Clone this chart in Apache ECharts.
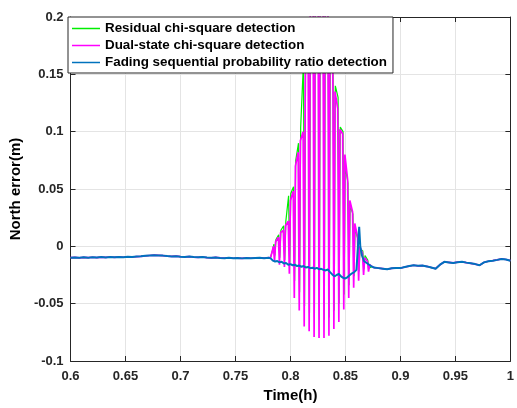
<!DOCTYPE html>
<html>
<head>
<meta charset="utf-8">
<script src="https://cdn.jsdelivr.net/npm/echarts@6/dist/echarts.min.js"></script>
<style>
  html, body { margin: 0; padding: 0; background: #fff; }
  #chart { width: 517px; height: 408px; }
</style>
</head>
<body>
<div id="chart"></div>
<script>
// tick labels
const timeTicks = [0.6, 0.65, 0.7, 0.75, 0.8, 0.85, 0.9, 0.95, 1];
const errorTicks = [-0.1, -0.05, 0, 0.05, 0.1, 0.15, 0.2];

const seriesNames = [
  'Residual chi-square detection',
  'Dual-state chi-square detection',
  'Fading sequential probability ratio detection'
];

// common part before the fault (all three methods overlap)
const preSegment = [
  [0.600, -0.0099], [0.604, -0.0097], [0.608, -0.0100], [0.612, -0.0096], [0.616, -0.0099],
  [0.620, -0.0095], [0.624, -0.0098], [0.628, -0.0094], [0.632, -0.0097], [0.636, -0.0093],
  [0.640, -0.0096], [0.644, -0.0092], [0.648, -0.0095], [0.652, -0.0091], [0.656, -0.0093],
  [0.660, -0.0089], [0.664, -0.0087], [0.668, -0.0083], [0.672, -0.0080], [0.676, -0.0077],
  [0.680, -0.0079], [0.684, -0.0081], [0.688, -0.0085], [0.692, -0.0088], [0.696, -0.0086],
  [0.700, -0.0090], [0.704, -0.0092], [0.708, -0.0089], [0.712, -0.0094], [0.716, -0.0096],
  [0.720, -0.0093], [0.724, -0.0098], [0.728, -0.0100], [0.732, -0.0097], [0.736, -0.0101],
  [0.740, -0.0103], [0.744, -0.0100], [0.748, -0.0104], [0.752, -0.0102], [0.756, -0.0105],
  [0.760, -0.0101], [0.764, -0.0104], [0.768, -0.0102], [0.772, -0.0100], [0.776, -0.0103],
  [0.780, -0.0099]
];

// fading SPRT during the fault
const fsprtBurst = [
  [0.782, -0.0105], [0.784, -0.0125], [0.786, -0.0132], [0.788, -0.0128], [0.790, -0.0140],
  [0.792, -0.0135], [0.794, -0.0150], [0.796, -0.0145], [0.798, -0.0160], [0.800, -0.0155],
  [0.802, -0.0165], [0.804, -0.0160], [0.806, -0.0172], [0.808, -0.0168], [0.810, -0.0178],
  [0.812, -0.0172], [0.814, -0.0185], [0.816, -0.0180], [0.818, -0.0190], [0.820, -0.0186],
  [0.822, -0.0195], [0.824, -0.0188], [0.826, -0.0200], [0.828, -0.0196], [0.830, -0.0205],
  [0.832, -0.0210], [0.834, -0.0202], [0.836, -0.0225], [0.838, -0.0245], [0.840, -0.0262],
  [0.842, -0.0250], [0.844, -0.0240], [0.846, -0.0262], [0.848, -0.0275], [0.850, -0.0280],
  [0.852, -0.0268], [0.854, -0.0250], [0.856, -0.0235], [0.858, -0.0225], [0.860, -0.0205],
  [0.8615, -0.0190], [0.8625, 0.0170], [0.8635, 0.0000], [0.865, -0.0080], [0.867, -0.0130],
  [0.870, -0.0150], [0.873, -0.0170], [0.876, -0.0185]
];

// dual-state chi-square during the fault
const dualBurst = [
  [0.782, -0.0095], [0.7835, -0.0040],
  [0.7845, 0.000], [0.7855, -0.013], [0.7865, 0.004],
  [0.789, 0.008], [0.790, -0.016], [0.791, 0.012],
  [0.7935, 0.014], [0.7945, -0.018], [0.7955, 0.018],
  [0.798, 0.022], [0.799, -0.024], [0.800, 0.040],
  [0.8025, 0.048], [0.8035, -0.045], [0.8045, 0.070],
  [0.807, 0.082], [0.808, -0.056], [0.809, 0.092],
  [0.8115, 0.100], [0.8125, -0.070], [0.8135, 0.150],
  [0.816, 0.190], [0.817, -0.074], [0.818, 0.210],
  [0.8205, 0.230], [0.8215, -0.079], [0.8225, 0.240],
  [0.825, 0.250], [0.826, -0.080], [0.827, 0.250],
  [0.8295, 0.240], [0.8305, -0.080], [0.8315, 0.230],
  [0.834, 0.210], [0.835, -0.078], [0.836, 0.190],
  [0.8385, 0.160], [0.8395, -0.072], [0.8405, 0.135],
  [0.843, 0.120], [0.844, -0.066], [0.845, 0.102],
  [0.8475, 0.098], [0.8485, -0.055], [0.8495, 0.080],
  [0.852, 0.058], [0.853, -0.045], [0.854, 0.040],
  [0.8565, 0.030], [0.8575, -0.036], [0.8585, 0.020],
  [0.861, 0.008], [0.862, -0.030], [0.863, 0.000],
  [0.8655, -0.006], [0.8665, -0.025], [0.8675, -0.010],
  [0.870, -0.013], [0.871, -0.022], [0.872, -0.016],
  [0.874, -0.0175], [0.876, -0.0185]
];

// residual chi-square during the fault
const residualBurst = [
  [0.782, -0.0095], [0.784, -0.0020],
  [0.7850, 0.002], [0.7858, -0.008], [0.7868, 0.006],
  [0.7893, 0.010], [0.7903, -0.010], [0.7913, 0.014],
  [0.7938, 0.018], [0.7948, -0.012], [0.7958, 0.022],
  [0.7983, 0.044], [0.7993, -0.016], [0.8003, 0.046],
  [0.8028, 0.052], [0.8038, -0.030], [0.8048, 0.075],
  [0.8073, 0.090], [0.8083, -0.040], [0.8093, 0.104],
  [0.8118, 0.160], [0.8128, -0.052], [0.8138, 0.170],
  [0.8163, 0.200], [0.8173, -0.058], [0.8183, 0.220],
  [0.8208, 0.240], [0.8218, -0.062], [0.8228, 0.250],
  [0.8253, 0.250], [0.8263, -0.064], [0.8273, 0.250],
  [0.8298, 0.230], [0.8308, -0.064], [0.8318, 0.220],
  [0.8343, 0.200], [0.8353, -0.062], [0.8363, 0.180],
  [0.8388, 0.150], [0.8398, -0.056], [0.8408, 0.140],
  [0.8433, 0.130], [0.8443, -0.050], [0.8453, 0.104],
  [0.8478, 0.100], [0.8488, -0.042], [0.8498, 0.070],
  [0.8523, 0.055], [0.8533, -0.034], [0.8543, 0.036],
  [0.8568, 0.028], [0.8578, -0.026], [0.8588, 0.016],
  [0.8613, 0.006], [0.8623, -0.022], [0.8633, -0.002],
  [0.8658, -0.004], [0.8668, -0.020], [0.8678, -0.008],
  [0.8703, -0.012], [0.8713, -0.019],
  [0.874, -0.0178], [0.876, -0.0185]
];

// common part after the fault
const postSegment = [
  [0.880, -0.0190], [0.884, -0.0195], [0.888, -0.0200], [0.892, -0.0192], [0.896, -0.0188],
  [0.900, -0.0190], [0.904, -0.0180], [0.908, -0.0172], [0.912, -0.0165], [0.916, -0.0170],
  [0.920, -0.0168], [0.924, -0.0175], [0.928, -0.0185], [0.932, -0.0195], [0.936, -0.0160],
  [0.940, -0.0135], [0.944, -0.0140], [0.948, -0.0145], [0.952, -0.0138], [0.956, -0.0135],
  [0.960, -0.0142], [0.964, -0.0148], [0.968, -0.0155], [0.972, -0.0165], [0.976, -0.0140],
  [0.980, -0.0130], [0.984, -0.0125], [0.988, -0.0118], [0.992, -0.0110], [0.996, -0.0115],
  [1.000, -0.0125]
];

const residualData = preSegment.concat(residualBurst, postSegment);
const dualData = preSegment.concat(dualBurst, postSegment);
const fsprtData = preSegment.concat(fsprtBurst, postSegment);

const font = 'Liberation Sans, Arial, sans-serif';
const tStep = timeTicks[1] - timeTicks[0];
const eStep = errorTicks[1] - errorTicks[0];

const chart = echarts.init(document.getElementById('chart'), null, { renderer: 'canvas' });

function xAxisDef(pos, main) {
  return {
    type: 'value',
    position: pos,
    min: timeTicks[0],
    max: timeTicks[timeTicks.length - 1],
    interval: tStep,
    name: main ? 'Time(h)' : '',
    nameLocation: 'middle',
    nameGap: 27,
    nameTextStyle: { fontFamily: font, fontWeight: 'bold', fontSize: 15, color: '#000' },
    axisLine: { show: true, onZero: false, lineStyle: { color: '#262626', width: 1 } },
    axisTick: { show: true, inside: true, length: 5, lineStyle: { color: '#262626' } },
    axisLabel: {
      show: main, margin: 9,
      fontFamily: font, fontWeight: 'bold', fontSize: 13, color: '#262626',
      formatter: function (v) { return String(+v.toFixed(2)); }
    },
    splitLine: { show: main, lineStyle: { color: '#e4e4e4', width: 1 } }
  };
}

function yAxisDef(pos, main) {
  return {
    type: 'value',
    position: pos,
    min: errorTicks[0],
    max: errorTicks[errorTicks.length - 1],
    interval: eStep,
    name: main ? 'North error(m)' : '',
    nameLocation: 'middle',
    nameGap: 42,
    nameTextStyle: { fontFamily: font, fontWeight: 'bold', fontSize: 15, color: '#000' },
    axisLine: { show: true, onZero: false, lineStyle: { color: '#262626', width: 1 } },
    axisTick: { show: true, inside: true, length: 5, lineStyle: { color: '#262626' } },
    axisLabel: {
      show: main, margin: 7,
      fontFamily: font, fontWeight: 'bold', fontSize: 13, color: '#262626',
      formatter: function (v) { return String(+v.toFixed(2)); }
    },
    splitLine: { show: main, lineStyle: { color: '#e4e4e4', width: 1 } }
  };
}

chart.setOption({
  animation: false,
  backgroundColor: '#fff',
  grid: { left: 69, right: 4, top: 17, bottom: 44 },
  xAxis: [xAxisDef('bottom', true), xAxisDef('top', false)],
  yAxis: [yAxisDef('left', true), yAxisDef('right', false)],
  legend: {
    orient: 'vertical',
    left: 68,
    top: 17,
    icon: 'rect',
    itemWidth: 28,
    itemHeight: 1.5,
    itemGap: 2,
    padding: [4, 6, 3, 4],
    backgroundColor: '#fff',
    borderColor: '#262626',
    borderWidth: 1,
    textStyle: { fontFamily: font, fontWeight: 'bold', fontSize: 13.4, lineHeight: 15, color: '#000' },
    data: seriesNames
  },
  series: [
    {
      name: seriesNames[0], type: 'line', data: residualData, showSymbol: false, symbol: 'none',
      color: '#00ee00', lineStyle: { width: 1.2, color: '#00ee00' }, clip: true, z: 2
    },
    {
      name: seriesNames[1], type: 'line', data: dualData, showSymbol: false, symbol: 'none',
      color: '#ff00ff', lineStyle: { width: 1.7, color: '#ff00ff' }, clip: true, z: 3
    },
    {
      name: seriesNames[2], type: 'line', data: fsprtData, showSymbol: false, symbol: 'none',
      color: '#0072bd', lineStyle: { width: 2, color: '#0072bd' }, clip: true, z: 4
    }
  ]
});
</script>
</body>
</html>
